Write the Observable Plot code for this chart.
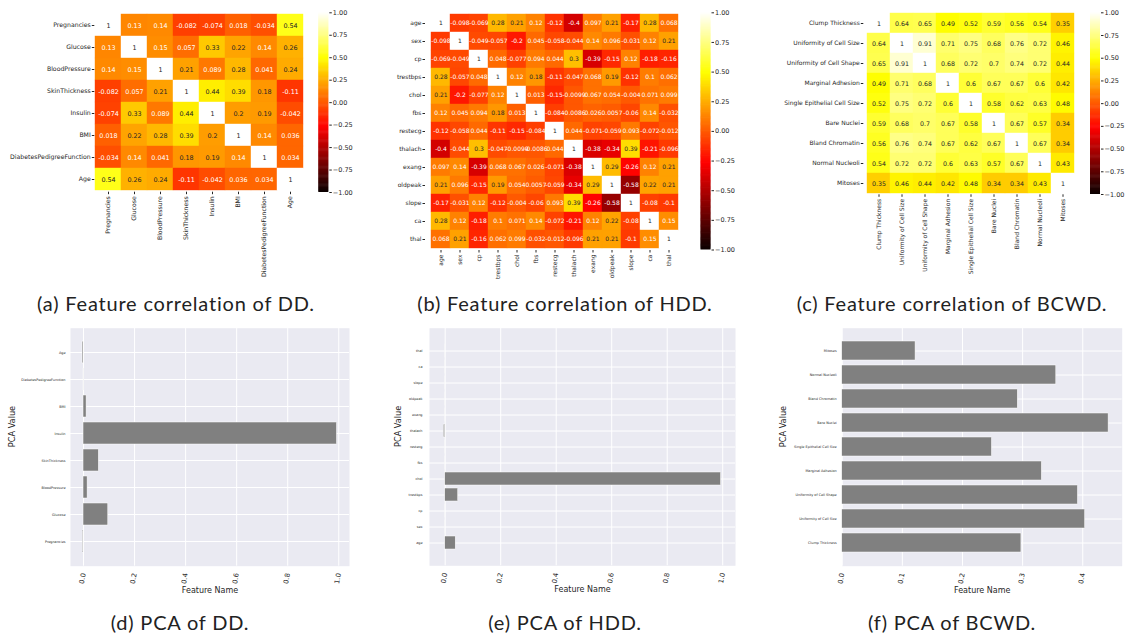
<!DOCTYPE html>
<html><head><meta charset="utf-8">
<script src="https://cdn.jsdelivr.net/npm/d3@7"></script>
<script src="https://cdn.jsdelivr.net/npm/@observablehq/plot@0.6"></script>
<style>
body{margin:0;background:#fff;}
#fig{position:relative;width:1126px;height:640px;overflow:hidden;font-family:"DejaVu Sans";}
.panel{position:absolute;}
.cap{position:absolute;font-family:Lato;font-size:20px;letter-spacing:0.8px;color:#222;white-space:nowrap;transform:translate(-50%,-50%);line-height:1;}
</style></head><body><div id="fig"></div>
<script>
// ---------- data ----------
const ddFeatures = ["Pregnancies","Glucose","BloodPressure","SkinThickness","Insulin","BMI","DiabetesPedigreeFunction","Age"];
const ddCorr = [
 [1,0.13,0.14,-0.082,-0.074,0.018,-0.034,0.54],
 [0.13,1,0.15,0.057,0.33,0.22,0.14,0.26],
 [0.14,0.15,1,0.21,0.089,0.28,0.041,0.24],
 [-0.082,0.057,0.21,1,0.44,0.39,0.18,-0.11],
 [-0.074,0.33,0.089,0.44,1,0.2,0.19,-0.042],
 [0.018,0.22,0.28,0.39,0.2,1,0.14,0.036],
 [-0.034,0.14,0.041,0.18,0.19,0.14,1,0.034],
 [0.54,0.26,0.24,-0.11,-0.042,0.036,0.034,1]];

const hddFeatures = ["age","sex","cp","trestbps","chol","fbs","restecg","thalach","exang","oldpeak","slope","ca","thal"];
const hddCorr = [
 [1,-0.098,-0.069,0.28,0.21,0.12,-0.12,-0.4,0.097,0.21,-0.17,0.28,0.068],
 [-0.098,1,-0.049,-0.057,-0.2,0.045,-0.058,-0.044,0.14,0.096,-0.031,0.12,0.21],
 [-0.069,-0.049,1,0.048,-0.077,0.094,0.044,0.3,-0.39,-0.15,0.12,-0.18,-0.16],
 [0.28,-0.057,0.048,1,0.12,0.18,-0.11,-0.047,0.068,0.19,-0.12,0.1,0.062],
 [0.21,-0.2,-0.077,0.12,1,0.013,-0.15,-0.0099,0.067,0.054,-0.004,0.071,0.099],
 [0.12,0.045,0.094,0.18,0.013,1,-0.084,-0.0086,0.026,0.0057,-0.06,0.14,-0.032],
 [-0.12,-0.058,0.044,-0.11,-0.15,-0.084,1,0.044,-0.071,-0.059,0.093,-0.072,-0.012],
 [-0.4,-0.044,0.3,-0.047,-0.0099,-0.0086,0.044,1,-0.38,-0.34,0.39,-0.21,-0.096],
 [0.097,0.14,-0.39,0.068,0.067,0.026,-0.071,-0.38,1,0.29,-0.26,0.12,0.21],
 [0.21,0.096,-0.15,0.19,0.054,0.0057,-0.059,-0.34,0.29,1,-0.58,0.22,0.21],
 [-0.17,-0.031,0.12,-0.12,-0.004,-0.06,0.093,0.39,-0.26,-0.58,1,-0.08,-0.1],
 [0.28,0.12,-0.18,0.1,0.071,0.14,-0.072,-0.21,0.12,0.22,-0.08,1,0.15],
 [0.068,0.21,-0.16,0.062,0.099,-0.032,-0.012,-0.096,0.21,0.21,-0.1,0.15,1]];

const bcwdFeatures = ["Clump Thickness","Uniformity of Cell Size","Uniformity of Cell Shape","Marginal Adhesion","Single Epithelial Cell Size","Bare Nuclei","Bland Chromatin","Normal Nucleoli","Mitoses"];
const bcwdCorr = [
 [1,0.64,0.65,0.49,0.52,0.59,0.56,0.54,0.35],
 [0.64,1,0.91,0.71,0.75,0.68,0.76,0.72,0.46],
 [0.65,0.91,1,0.68,0.72,0.7,0.74,0.72,0.44],
 [0.49,0.71,0.68,1,0.6,0.67,0.67,0.6,0.42],
 [0.52,0.75,0.72,0.6,1,0.58,0.62,0.63,0.48],
 [0.59,0.68,0.7,0.67,0.58,1,0.67,0.57,0.34],
 [0.56,0.76,0.74,0.67,0.62,0.67,1,0.67,0.34],
 [0.54,0.72,0.72,0.6,0.63,0.57,0.67,1,0.43],
 [0.35,0.46,0.44,0.42,0.48,0.34,0.34,0.43,1]];

const colorbarTicks = [-1,-0.75,-0.5,-0.25,0,0.25,0.5,0.75,1];

const ddPCA   = [-0.003,0.097,0.016,0.060,0.993,0.012,0.0005,-0.004];
const hddPCA  = [0.038,0.0002,0.0002,0.047,0.994,0.0002,0.0002,-0.005,0.0002,0.0002,0.0002,0.0002,0.0002];
const bcwdPCA = [0.298,0.404,0.392,0.332,0.249,0.443,0.292,0.356,0.122];

const ddTicks = [0,0.2,0.4,0.6,0.8,1.0];
const hddTicks = [0,0.2,0.4,0.6,0.8,1.0];
const bcwdTicks = [0,0.1,0.2,0.3,0.4];

const captions = [
 ["(a) Feature correlation of DD.",176,303],
 ["(b) Feature correlation of HDD.",565,303],
 ["(c) Feature correlation of BCWD.",952,303],
 ["(d) PCA of DD.",180,622],
 ["(e) PCA of HDD.",565,622],
 ["(f) PCA of BCWD.",952,622]];

// ---------- helpers ----------
const fig = document.getElementById("fig");
const clamp = x => Math.max(0, Math.min(1, x));
function hotRGB(t){ // matplotlib "hot"
  const r = t < 0.365079 ? 0.0416 + (1-0.0416)*t/0.365079 : 1;
  const g = clamp((t-0.365079)/(0.746032-0.365079));
  const b = clamp((t-0.746032)/(1-0.746032));
  return [r,g,b];
}
const hotCss = t => { const [r,g,b] = hotRGB(clamp(t)); return d3.rgb(r*255,g*255,b*255).formatHex(); };
function lum(v){
  const lin = x => x <= 0.03928 ? x/12.92 : Math.pow((x+0.055)/1.055, 2.4);
  const [r,g,b] = hotRGB((v+1)/2);
  return 0.2126*lin(r)+0.7152*lin(g)+0.0722*lin(b);
}
function place(node, box){
  const d = document.createElement("div");
  d.className = "panel";
  d.style.left = box.x+"px"; d.style.top = box.y+"px";
  d.appendChild(node); fig.appendChild(d);
}
function margins(box, a){
  return {width:box.w, height:box.h, marginLeft:a.x0-box.x, marginRight:box.x+box.w-a.x1,
          marginTop:a.y0-box.y, marginBottom:box.y+box.h-a.y1};
}
const ink = "#262626";
const baseStyle = {fontFamily:"DejaVu Sans", background:"transparent", color:ink, overflow:"visible"};

function heatmap(labels, corr, box, area, fs, afs){
  const cells = [];
  labels.forEach((r,i)=>labels.forEach((c,j)=>cells.push({row:r,col:c,v:corr[i][j]})));
  const dark = cells.filter(d=>lum(d.v)>0.408), light = cells.filter(d=>lum(d.v)<=0.408);
  const chart = Plot.plot({
    ...margins(box, area),
    x:{domain:labels, padding:0}, y:{domain:labels, padding:0},
    color:{type:"linear", domain:[-1,1], interpolate:hotCss},
    style:baseStyle,
    marks:[
      Plot.cell(cells,{x:"col",y:"row",fill:"v",stroke:"v",strokeWidth:0.4,inset:0}),
      Plot.text(dark,{x:"col",y:"row",text:d=>String(d.v),fill:ink,fontSize:afs}),
      Plot.text(light,{x:"col",y:"row",text:d=>String(d.v),fill:"white",fontSize:afs}),
      Plot.axisX({tickRotate:-90, tickSize:2.5, tickPadding:1.5, fontSize:fs, label:null, color:ink}),
      Plot.axisY({tickSize:2.5, tickPadding:1.5, fontSize:fs, label:null, color:ink})
    ]
  });
  place(chart, box);
}
function colorbar(box, area, fs){
  const step = 0.01, bins = d3.range(200).map(i=>-1+i*step);
  const chart = Plot.plot({
    ...margins(box, area),
    x:{domain:[0,1], axis:null}, y:{domain:[-1,1]},
    color:{type:"linear", domain:[-1,1], interpolate:hotCss},
    style:baseStyle,
    marks:[
      Plot.rect(bins,{x1:0,x2:1,y1:d=>d,y2:d=>Math.min(1,d+step*1.6),fill:d=>d+step/2}),
      Plot.axisY({anchor:"right", ticks:colorbarTicks, tickFormat:d3.format(".2f"), tickSize:2.5, tickPadding:1.5, fontSize:fs, label:null, color:ink})
    ]
  });
  place(chart, box);
}
function pca(features, values, box, area, xdomain, xticks, pOuter, ylabDx, ytickPad){
  const data = features.map((f,i)=>({f, v:values[i]}));
  const chart = Plot.plot({
    ...margins(box, area),
    x:{domain:xdomain}, y:{domain:features.slice().reverse(), paddingInner:0.2, paddingOuter:pOuter},
    style:baseStyle,
    marks:[
      Plot.frame({fill:"#EAEAF2", stroke:"none"}),
      Plot.gridX({ticks:xticks, stroke:"white", strokeOpacity:1, strokeWidth:1}),
      Plot.gridY({stroke:"white", strokeOpacity:1, strokeWidth:1}),
      Plot.barX(data,{x:"v", y:"f", fill:"#808080", stroke:"white", strokeWidth:0.5}),
      Plot.axisX({ticks:xticks, tickFormat:".1f", tickRotate:-80, tickSize:0, tickPadding:7, fontSize:6.8, label:null, color:ink}),
      Plot.axisY({tickSize:0, tickPadding:ytickPad, fontSize:3.4, label:null, color:ink}),
      Plot.text(["PCA Value"],{frameAnchor:"left", dx:ylabDx, rotate:-90, text:d=>d, fontSize:8.2, fill:ink}),
      Plot.text(["Feature Name"],{frameAnchor:"bottom", dy:26.5, text:d=>d, fontSize:8, fill:ink})
    ]
  });
  place(chart, box);
}

// ---------- panels ----------
heatmap(ddFeatures, ddCorr, {x:0,y:0,w:312,h:295}, {x0:94.3,y0:12.3,x1:304.3,y1:191.7}, 6.2, 6.4);
colorbar({x:312,y:0,w:60,h:295}, {x0:318.3,x1:328.3,y0:12.3,y1:192}, 6.5);
heatmap(hddFeatures, hddCorr, {x:375,y:0,w:320,h:295}, {x0:425,y0:12.3,x1:684,y1:250}, 6.0, 6.0);
colorbar({x:695,y:0,w:55,h:295}, {x0:700.5,x1:710.5,y0:12.3,y1:249.5}, 6.5);
heatmap(bcwdFeatures, bcwdCorr, {x:750,y:0,w:335,h:295}, {x0:863.3,y0:12.3,x1:1076.7,y1:194.3}, 6.0, 6.3);
colorbar({x:1085,y:0,w:41,h:295}, {x0:1090,x1:1100,y0:12.3,y1:194}, 6.5);

pca(ddFeatures, ddPCA, {x:0,y:320,w:375,h:285}, {x0:70,y0:327.7,x1:349,y1:565.7}, [-0.051,1.042], ddTicks, 0.39, -58, 5);
pca(hddFeatures, hddPCA, {x:375,y:320,w:375,h:285}, {x0:429,y0:327.7,x1:735,y1:565.3}, [-0.0565,1.046], hddTicks, 0.64, -31, 7);
pca(bcwdFeatures, bcwdPCA, {x:750,y:320,w:376,h:285}, {x0:841.7,y0:327.7,x1:1121.7,y1:565.7}, [0,0.4656], bcwdTicks, 0.44, -58.7, 5.5);

for (const [t,x,y] of captions){
  const d = document.createElement("div");
  d.className = "cap"; d.textContent = t;
  d.style.left = x+"px"; d.style.top = y+"px";
  fig.appendChild(d);
}
</script></body></html>
